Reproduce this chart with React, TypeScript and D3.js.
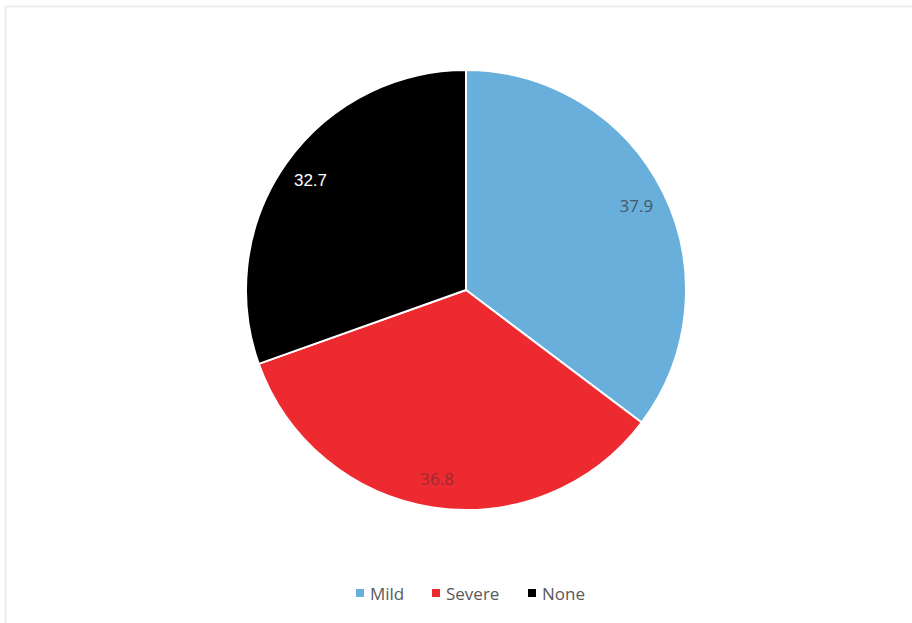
import React from "react";
import * as d3 from "d3";

const categories = ["Mild", "Severe", "None"];
const values = [37.9, 36.8, 32.7];
const colors = ["#68afdc", "#ec2a30", "#000000"];
const labelColors = ["#4a5666", "#9a2a30", "#ffffff"];

export default function App() {
  const W = 912, H = 623;
  const cx = 466, cy = 290, r = 220;
  const pie = d3.pie<number>().sort(null).value((d) => d)(values);
  const arc = d3.arc<d3.PieArcDatum<number>>().innerRadius(0).outerRadius(r);
  const labelArc = d3.arc<d3.PieArcDatum<number>>().innerRadius(r * 0.865).outerRadius(r * 0.865);
  const legendX = [356, 432, 528];
  return (
    <svg width={W} height={H} style={{ position: "absolute", left: 0, top: 0, fontFamily: "'Open Sans', 'Liberation Sans', sans-serif" }}>
      <rect x={0} y={0} width={W} height={H} fill="#fff" />
      <line x1={5} y1={6.5} x2={W} y2={6.5} stroke="#ececec" strokeWidth={2} />
      <line x1={5.5} y1={6} x2={5.5} y2={H} stroke="#ececec" strokeWidth={2} />
      <g transform={`translate(${cx},${cy})`}>
        {pie.map((p, i) => (
          <path key={i} d={arc(p) || ""} fill={colors[i]} stroke="#fff" strokeWidth={2} />
        ))}
        {pie.map((p, i) => {
          const [x, y] = labelArc.centroid(p);
          return (
            <text key={"l" + i} x={x} y={y} textAnchor="middle" dominantBaseline="central" fontSize={17}
              fontFamily={i === 2 ? "'Liberation Sans', Arial, sans-serif" : undefined} fill={labelColors[i]}>
              {values[i]}
            </text>
          );
        })}
      </g>
      {categories.map((c, i) => (
        <g key={c} transform={`translate(${legendX[i]},593)`}>
          <rect x={0} y={-4} width={8} height={8} fill={colors[i]} />
          <text x={14} y={0} dominantBaseline="central" fontSize={17} fill="#595959">{c}</text>
        </g>
      ))}
    </svg>
  );
}
